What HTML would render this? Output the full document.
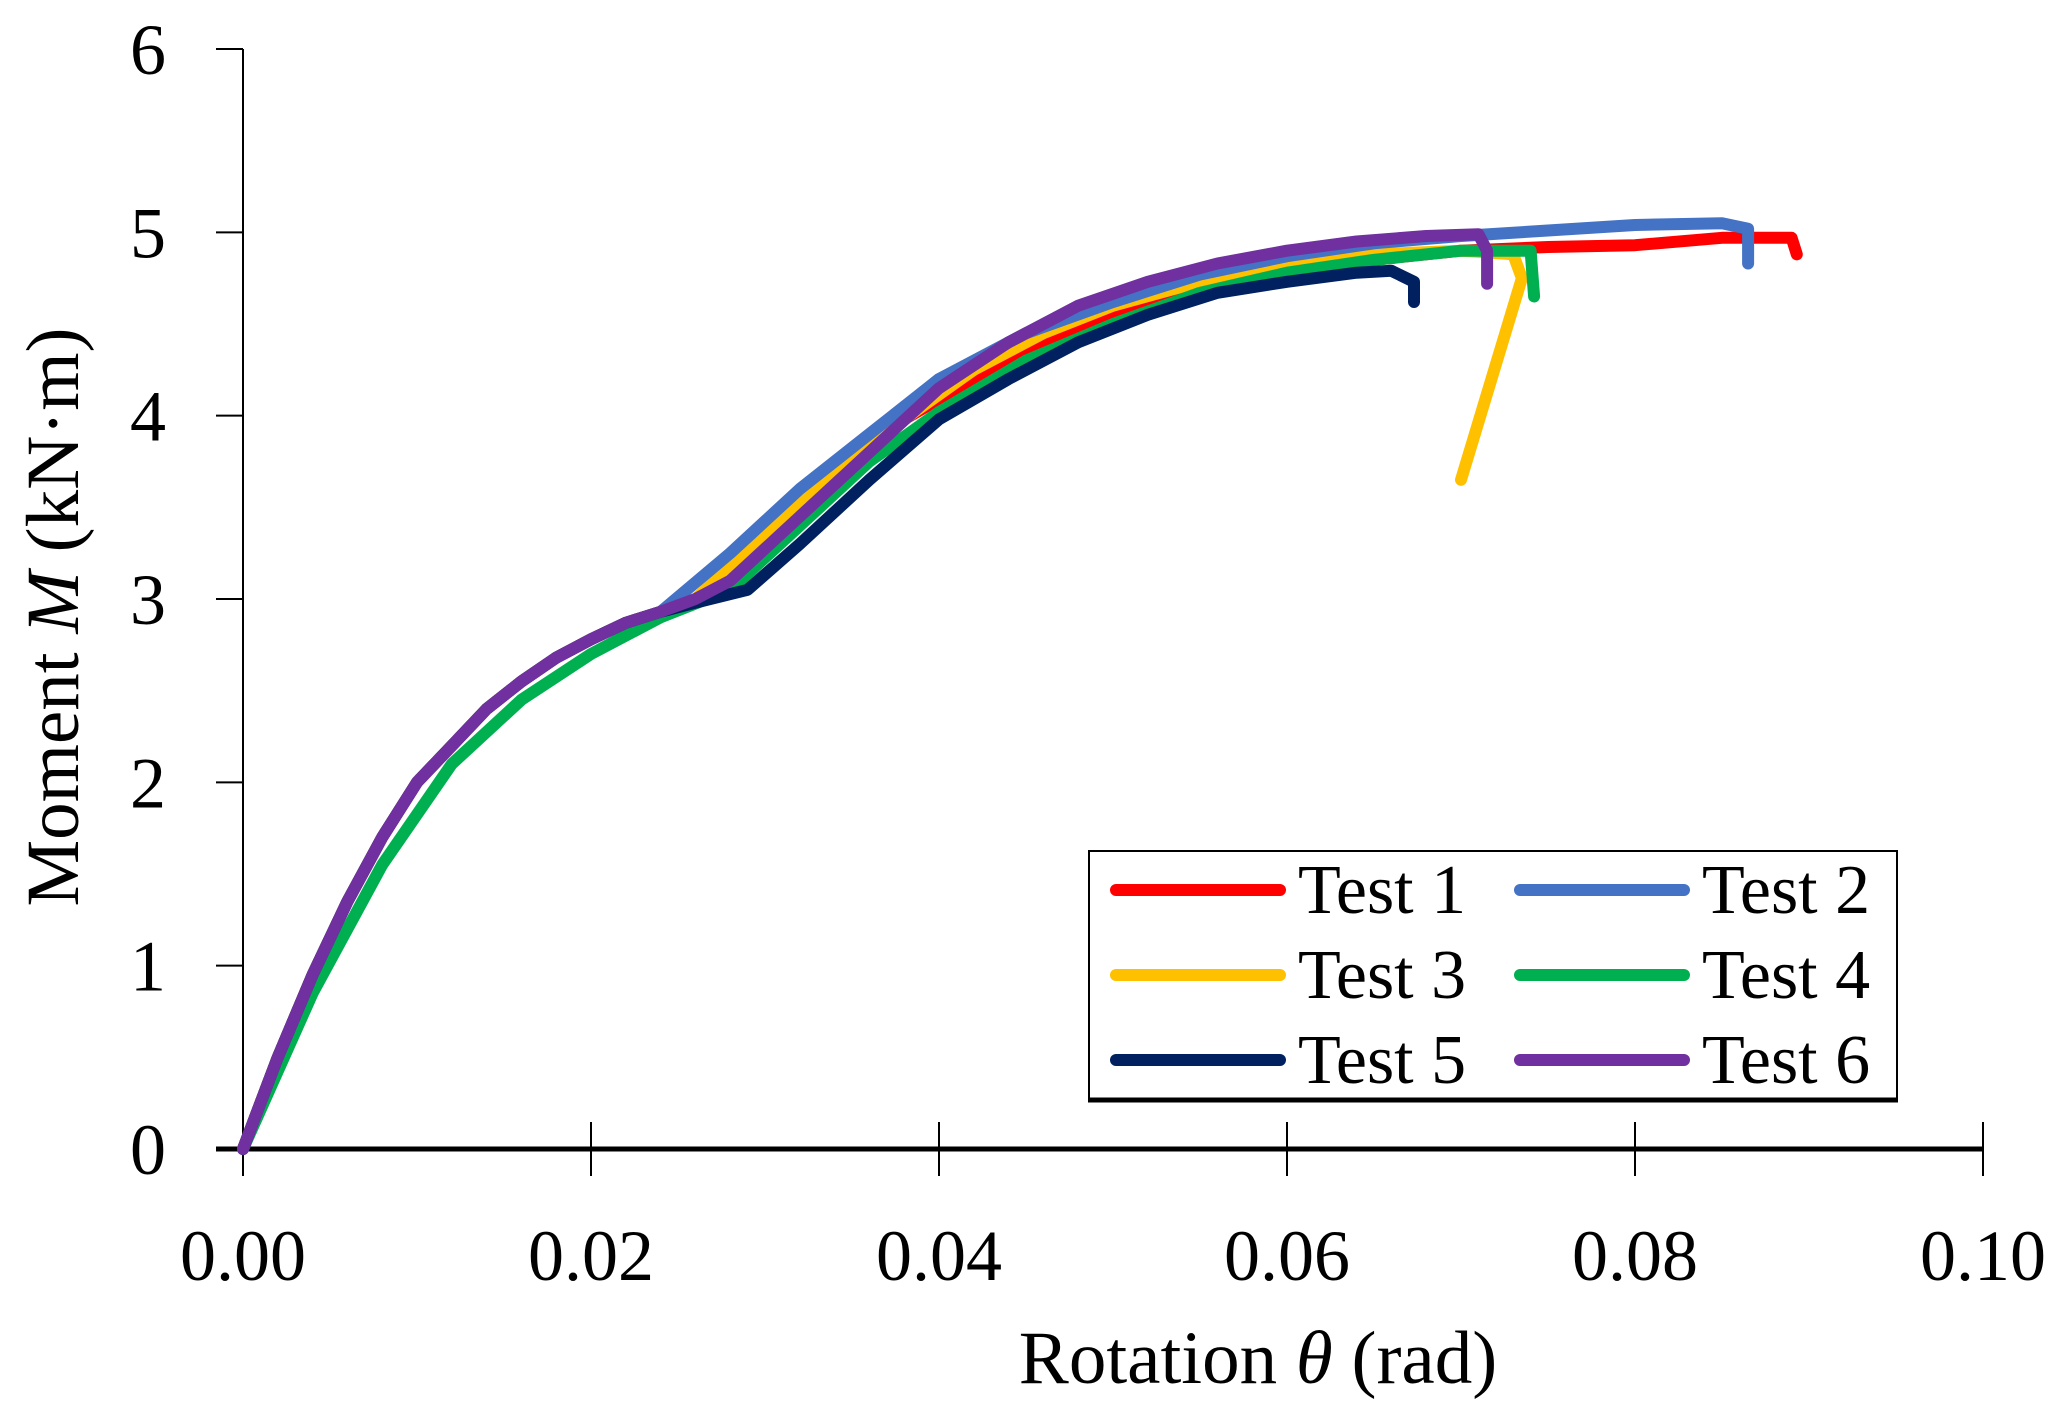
<!DOCTYPE html>
<html><head><meta charset="utf-8"><style>
html,body{margin:0;padding:0;background:#fff;}
svg{display:block;font-family:"Liberation Serif",serif;}
</style></head><body>
<svg id="chart" width="2059" height="1409" viewBox="0 0 2059 1409">
<g id="axes"></g>
<g id="series"></g>
<g id="legend"></g>
</svg>
<script>
const xTicks=[0,0.02,0.04,0.06,0.08,0.10];
const xTickLabels=["0.00","0.02","0.04","0.06","0.08","0.10"];
const yTicks=[0,1,2,3,4,5,6];
const yTickLabels=["0","1","2","3","4","5","6"];
const seriesNames=["Test 1","Test 2","Test 3","Test 4","Test 5","Test 6"];
const seriesColors=["#ff0000","#4472c4","#ffc000","#00b050","#002060","#7030a0"];
const baseX=[0,0.002,0.004,0.006,0.008,0.010,0.012,0.014,0.016,0.018,0.020,0.022,0.024];
const baseY=[0,0.5,0.95,1.35,1.7,2.0,2.2,2.4,2.55,2.68,2.78,2.87,2.93];
const t1x=[0.026,0.028,0.030,0.034,0.038,0.042,0.046,0.050,0.055,0.060,0.065,0.070,0.075,0.080,0.085,0.089,0.0893];
const t1y=[2.98,3.05,3.3,3.7,3.98,4.2,4.4,4.55,4.7,4.8,4.85,4.9,4.92,4.93,4.97,4.97,4.88];
const t2x=[0.028,0.032,0.036,0.040,0.045,0.050,0.055,0.060,0.065,0.070,0.075,0.080,0.085,0.0865,0.0865];
const t2y=[3.25,3.6,3.9,4.2,4.45,4.62,4.77,4.87,4.94,4.98,5.01,5.04,5.05,5.02,4.83];
const t3x=[0.026,0.030,0.034,0.038,0.042,0.046,0.050,0.055,0.060,0.065,0.070,0.073,0.0735,0.070];
const t3y=[3.0,3.35,3.7,3.98,4.25,4.45,4.6,4.73,4.83,4.88,4.9,4.88,4.75,3.65];
const t4x=[0,0.004,0.008,0.012,0.016,0.020,0.024,0.028,0.032,0.036,0.040,0.045,0.050,0.055,0.060,0.065,0.070,0.074,0.0742];
const t4y=[0,0.85,1.55,2.1,2.45,2.7,2.9,3.05,3.4,3.75,4.02,4.3,4.5,4.67,4.78,4.85,4.9,4.9,4.65];
const t5x=[0.026,0.029,0.032,0.036,0.040,0.044,0.048,0.052,0.056,0.060,0.064,0.066,0.0673,0.0673];
const t5y=[2.98,3.05,3.3,3.65,3.98,4.2,4.4,4.55,4.67,4.73,4.78,4.79,4.73,4.62];
const t6x=[0.026,0.028,0.032,0.036,0.040,0.044,0.048,0.052,0.056,0.060,0.064,0.068,0.071,0.0715,0.0715];
const t6y=[3.0,3.1,3.45,3.8,4.15,4.4,4.6,4.73,4.83,4.9,4.95,4.98,4.99,4.9,4.72];

const X0=243,X1=1983,Y0=1149,Y1=49;
const sx=v=>X0+(v-0)/(0.10)*(X1-X0);
const sy=v=>Y0-(v/6)*(Y0-Y1);
const NS="http://www.w3.org/2000/svg";
function mk(tag,attrs,parent){const e=document.createElementNS(NS,tag);for(const k in attrs)e.setAttribute(k,attrs[k]);parent.appendChild(e);return e;}
const axes=document.getElementById('axes');
let e;
e=mk('line',{x1:X0,y1:Y1,x2:X0,y2:Y0,stroke:'#000','stroke-width':2},axes);


yTicks.forEach((t,i)=>{
  const l=mk('line',{x1:X0-27,y1:sy(t),x2:X0,y2:sy(t),stroke:'#000','stroke-width':t===0?5:2},axes);
  
  
  const tx=mk('text',{x:166,y:sy(t)+25,'font-size':72,'text-anchor':'end',fill:'#000'},axes);
  tx.textContent=yTickLabels[i];
  
  
});
e=mk('line',{x1:X0,y1:Y0,x2:X1,y2:Y0,stroke:'#000','stroke-width':5},axes);


xTicks.forEach((t,i)=>{
  const l=mk('line',{x1:sx(t),y1:Y0-27,x2:sx(t),y2:Y0+27,stroke:'#000','stroke-width':2},axes);
  
  
  const tx=mk('text',{x:sx(t),y:1280,'font-size':72,'text-anchor':'middle',fill:'#000'},axes);
  tx.textContent=xTickLabels[i];
  
  
});
e=mk('text',{x:1258,y:1383,'font-size':75,'text-anchor':'middle',fill:'#000'},axes);
e.innerHTML='Rotation <tspan font-style="italic">θ</tspan> (rad)';


e=mk('text',{x:0,y:0,'font-size':75,'text-anchor':'middle',fill:'#000',transform:'translate(78,617) rotate(-90)'},axes);
e.innerHTML='Moment <tspan font-style="italic">M</tspan> (kN·m)';



const sg=document.getElementById('series');
const allX=[baseX.concat(t1x),baseX.concat(t2x),baseX.concat(t3x),t4x,baseX.concat(t5x),baseX.concat(t6x)];
const allY=[baseY.concat(t1y),baseY.concat(t2y),baseY.concat(t3y),t4y,baseY.concat(t5y),baseY.concat(t6y)];
const order=[0,2,1,3,4,5];
order.forEach(i=>{
  const d=allX[i].map((x,j)=>(j?'L':'M')+sx(x).toFixed(1)+','+sy(allY[i][j]).toFixed(1)).join(' ');
  const p=mk('path',{d:d,fill:'none',stroke:seriesColors[i],'stroke-width':12,'stroke-linecap':'round','stroke-linejoin':'round'},sg);
  
  
});

const lg=document.getElementById('legend');
e=mk('rect',{x:1089,y:851,width:808,height:249,fill:'#fff',stroke:'#000','stroke-width':2},lg);


e=mk('line',{x1:1088,y1:1100,x2:1898,y2:1100,stroke:'#000','stroke-width':5},lg);


seriesNames.forEach((n,i)=>{
  const col=i%2,row=Math.floor(i/2);
  const lx=col?1520:1116,ty=890+row*85;
  const g=mk('g',{},lg);
  
  
  mk('line',{x1:lx,y1:ty,x2:lx+164,y2:ty,stroke:seriesColors[i],'stroke-width':12,'stroke-linecap':'round'},g);
  const t=mk('text',{x:lx+182,y:ty+23,'font-size':70,fill:'#000'},g);
  t.textContent=n;
});
</script>
</body></html>
